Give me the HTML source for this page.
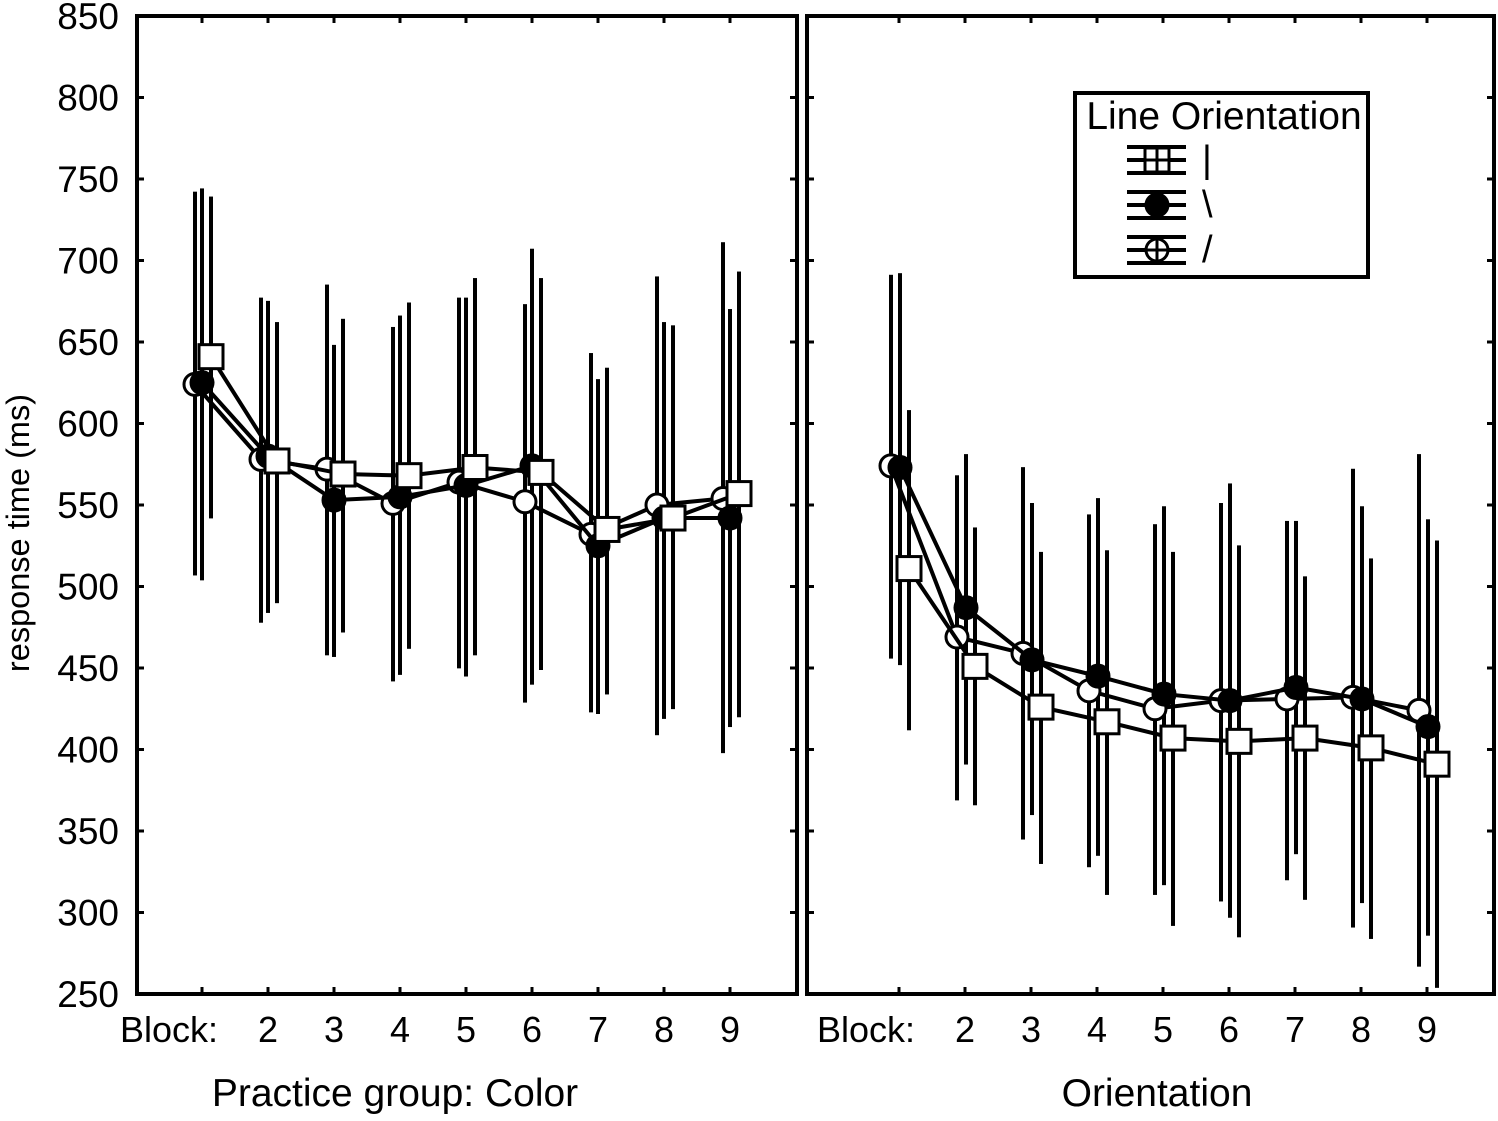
<!DOCTYPE html>
<html><head><meta charset="utf-8"><style>
body{margin:0;background:#fff}
svg text{font-family:"Liberation Sans",sans-serif;fill:#000}
</style></head><body>
<svg id="c" width="1498" height="1116" xmlns="http://www.w3.org/2000/svg"></svg>
<script>
const blocks=[1,2,3,4,5,6,7,8,9];
const yTicks=[250,300,350,400,450,500,550,600,650,700,750,800,850];
const leftSquare=[641,577,569,568,573,570,535,542,557];
const leftFilled=[625,580,553,555,562,574,525,542,542];
const leftCircle=[624,578,572,551,564,552,532,550,554];
const leftCircleLo=[508,479,459,443,451,430,424,410,399];
const leftCircleHi=[741,676,684,658,676,672,642,689,710];
const leftFilledLo=[505,485,458,447,446,441,423,420,415];
const leftFilledHi=[743,674,647,665,676,706,626,661,669];
const leftSquareLo=[543,491,473,463,459,450,435,426,421];
const leftSquareHi=[738,661,663,673,688,688,633,659,692];
const rightSquare=[511,451,426,417,407,405,407,401,391];
const rightFilled=[573,487,455,445,434,430,438,431,414];
const rightCircle=[574,469,459,436,425,430,431,432,424];
const rightCircleLo=[457,370,346,329,312,308,321,292,268];
const rightCircleHi=[690,567,572,543,537,550,539,571,580];
const rightFilledLo=[453,392,361,336,318,298,337,307,287];
const rightFilledHi=[691,580,550,553,548,562,539,548,540];
const rightSquareLo=[413,367,331,312,293,286,309,285,255];
const rightSquareHi=[607,535,520,521,520,524,505,516,527];

const svg=document.getElementById('c');
const NS='http://www.w3.org/2000/svg';
function el(t,a,p){const e=document.createElementNS(NS,t);for(const k in a)e.setAttribute(k,a[k]);(p||svg).appendChild(e);return e;}
const y=v=>994-(v-250)*978/600;
const panels=[{x0:137,x1:797,bx:202,name:'left',sq:leftSquare,fi:leftFilled,ci:leftCircle,
 b:[[leftCircleLo,leftCircleHi,-7],[leftFilledLo,leftFilledHi,0],[leftSquareLo,leftSquareHi,9]],label:'Practice group: Color',lx:395},
 {x0:807,x1:1494,bx:899,name:'right',sq:rightSquare,fi:rightFilled,ci:rightCircle,
 b:[[rightCircleLo,rightCircleHi,-8],[rightFilledLo,rightFilledHi,1],[rightSquareLo,rightSquareHi,10]],label:'Orientation',lx:1157}];
panels.forEach(p=>{
  const g=el('g',{});
  
  
  const x=b=>p.bx+(b-1)*66;
  el('rect',{x:p.x0,y:16,width:p.x1-p.x0,height:978,fill:'none',stroke:'#000','stroke-width':4},g);
  yTicks.forEach(v=>{el('line',{x1:p.x0,x2:p.x0+7,y1:y(v),y2:y(v),stroke:'#000','stroke-width':3},g);
    el('line',{x1:p.x1-7,x2:p.x1,y1:y(v),y2:y(v),stroke:'#000','stroke-width':3},g);});
  blocks.forEach(b=>{el('line',{x1:x(b),x2:x(b),y1:994,y2:987,stroke:'#000','stroke-width':3},g);
    el('line',{x1:x(b),x2:x(b),y1:16,y2:23,stroke:'#000','stroke-width':3},g);
    const t=el('text',{x:x(b),y:1042,'font-size':36,'text-anchor':b==1?'end':'middle'},g);
    if(b==1)t.setAttribute('x',x(b)+16);
    t.textContent=b==1?'Block:':b;
    
    });
  const lab=el('text',{x:p.lx,y:1106,'font-size':39,'text-anchor':'middle'},g);
  lab.textContent=p.label;
  
  
  p.b.forEach(([lo,hi,off])=>blocks.forEach((b,i)=>{
    const bar=el('line',{x1:x(b)+off,x2:x(b)+off,y1:y(lo[i]),y2:y(hi[i]),stroke:'#000','stroke-width':4},g);
    
    
    el('line',{x1:x(b)+off-2,x2:x(b)+off+2,y1:y(lo[i]),y2:y(lo[i]),stroke:'#000','stroke-width':4},g);
    el('line',{x1:x(b)+off-2,x2:x(b)+off+2,y1:y(hi[i]),y2:y(hi[i]),stroke:'#000','stroke-width':4},g);
  }));
  [[p.ci,-7+(p.name=='right'?-1:0),'circle'],[p.fi,(p.name=='right'?1:0),'filled'],[p.sq,(p.name=='right'?10:9),'square']].forEach(([d,off,kind])=>{
    const pts=blocks.map((b,i)=>(x(b)+off)+','+y(d[i])).join(' ');
    const l=el('polyline',{points:pts,fill:'none',stroke:'#000','stroke-width':4},g);
    
    
    blocks.forEach((b,i)=>{
      const cx=x(b)+off,cy=y(d[i]);let m;
      if(kind=='square')m=el('rect',{x:cx-12,y:cy-12,width:24,height:24,fill:'#fff',stroke:'#000','stroke-width':3},g);
      else m=el('circle',{cx,cy,r:11,fill:kind=='filled'?'#000':'#fff',stroke:'#000','stroke-width':3},g);
      
      
    });
  });
});
yTicks.forEach(v=>{const t=el('text',{x:119,y:y(v)+13,'font-size':37,'text-anchor':'end'});t.textContent=v;
  
  });
const yt=el('text',{x:0,y:0,'font-size':32.5,'text-anchor':'middle',transform:'translate(29,533) rotate(-90)'});
yt.textContent='response time (ms)';


const lg=el('g',{});


el('rect',{x:1075,y:93,width:293,height:184,fill:'#fff',stroke:'#000','stroke-width':4},lg);
const lt=el('text',{x:1224,y:129,'font-size':39,'text-anchor':'middle'},lg);lt.textContent='Line Orientation';
[['square','|',160],['filled','\\',205],['circle','/',250]].forEach(([k,s,yy])=>{
  const e=el('g',{},lg);
  
  
  [-13,0,13].forEach(d=>el('line',{x1:1127,x2:1186,y1:yy+d,y2:yy+d,stroke:'#000','stroke-width':4},e));
  if(k=='square')el('rect',{x:1145,y:yy-12,width:24,height:24,fill:'#fff',stroke:'#000','stroke-width':3},e);
  else el('circle',{cx:1157,cy:yy,r:11,fill:k=='filled'?'#000':'#fff',stroke:'#000','stroke-width':3},e);
  if(k!='filled'){el('line',{x1:1145,x2:1169,y1:yy,y2:yy,stroke:'#000','stroke-width':3},e);el('line',{x1:1157,x2:1157,y1:yy-12,y2:yy+12,stroke:'#000','stroke-width':3},e);}
  const t=el('text',{x:1202,y:yy+12,'font-size':38},e);t.textContent=s;
});
</script>
</body></html>
